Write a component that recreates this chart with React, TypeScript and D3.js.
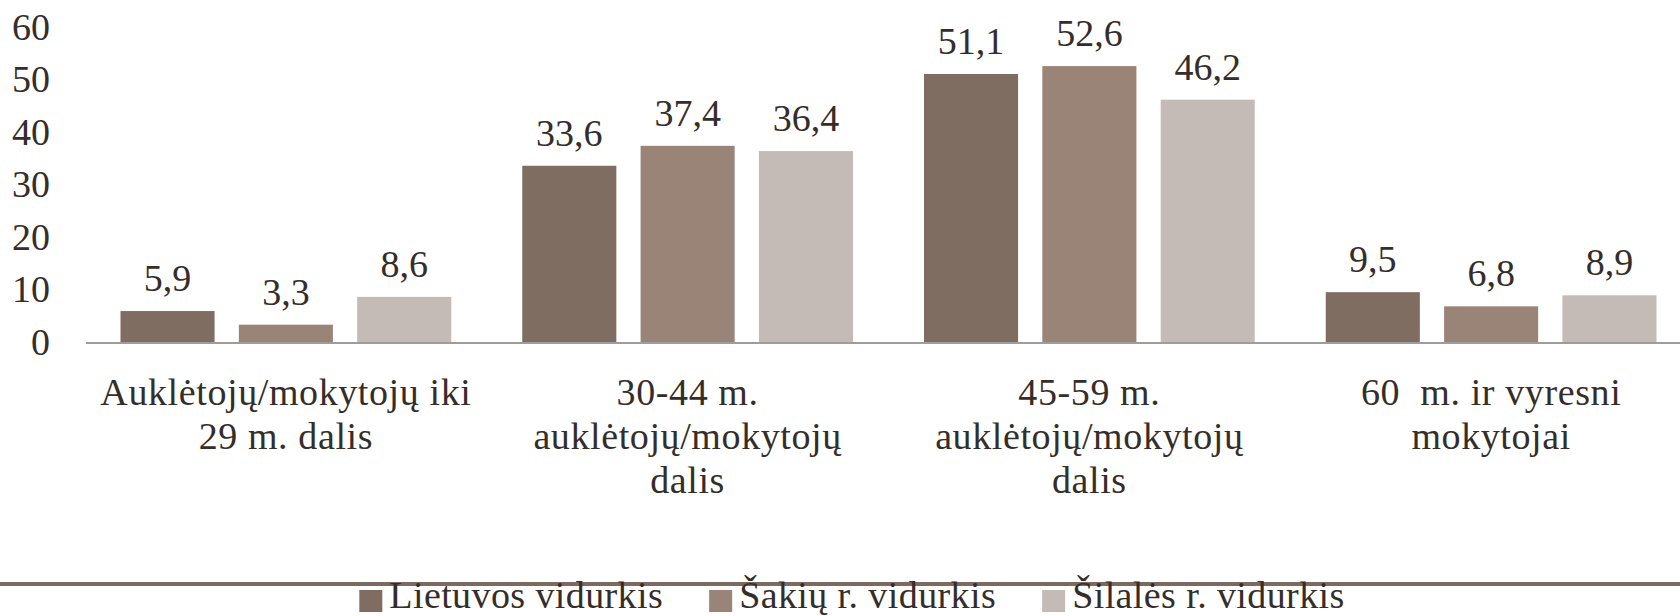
import React, { useEffect, useRef } from 'react';
import * as d3 from 'd3';

// chart data
const categories = ['c1', 'c2', 'c3', 'c4'];
const categoryLabels = [
  ['Auklėtojų/mokytojų iki', '29 m. dalis'],
  ['30-44 m.', 'auklėtojų/mokytojų', 'dalis'],
  ['45-59 m.', 'auklėtojų/mokytojų', 'dalis'],
  ['60  m. ir vyresni', 'mokytojai'],
];
const seriesNames = ['Lietuvos vidurkis', 'Šakių r. vidurkis', 'Šilalės r. vidurkis'];
const lietuva = [5.9, 33.6, 51.1, 9.5];
const sakiai = [3.3, 37.4, 52.6, 6.8];
const silale = [8.6, 36.4, 46.2, 8.9];
const yTicks = [0, 10, 20, 30, 40, 50, 60];

const colors = ['#7f6d62', '#9a8477', '#c4bbb6'];
const textColor = '#352d29';
const font = '"Liberation Serif", "Times New Roman", serif';

const App = () => {
  const svgRef = useRef<SVGSVGElement>(null);

  useEffect(() => {
    const width = 1680;
    const svg = d3.select(svgRef.current);
    svg.selectAll('*').remove();

    const values = [lietuva, sakiai, silale];

    const x0 = d3.scaleBand().domain(categories).range([85, 1692]);
    const x1 = d3.scaleBand()
      .domain(seriesNames)
      .range([0, x0.bandwidth()])
      .paddingInner(0.205)
      .paddingOuter(0.3);
    const y = d3.scaleLinear().domain([0, 60]).range([342, 27.3]);

    // y tick labels
    svg.append('g')
      .selectAll('text')
      .data(yTicks)
      .enter().append('text')
      .attr('x', 50)
      .attr('y', d => y(d) + 12.7)
      .attr('text-anchor', 'end')
      .attr('font-size', 38)
      .attr('font-family', font)
      .attr('fill', textColor)
      .text(d => d);

    // bars
    const groups = svg.append('g')
      .selectAll('g')
      .data(categories)
      .enter().append('g')
      .attr('transform', d => `translate(${x0(d)},0)`);

    groups.each(function (cat, ci) {
      const g = d3.select(this);
      const rows = seriesNames.map((s, si) => ({ s, si, v: values[si][ci] }));
      g.selectAll('rect')
        .data(rows)
        .enter().append('rect')
        .attr('x', d => x1(d.s) as number)
        .attr('y', d => y(d.v))
        .attr('width', x1.bandwidth())
        .attr('height', d => y(0) - y(d.v))
        .attr('fill', d => colors[d.si]);
      g.selectAll('text.val')
        .data(rows)
        .enter().append('text')
        .attr('class', 'val')
        .attr('x', d => (x1(d.s) as number) + x1.bandwidth() / 2)
        .attr('y', d => y(d.v) - 20)
        .attr('text-anchor', 'middle')
        .attr('font-size', 38)
        .attr('font-family', font)
        .attr('fill', textColor)
        .text(d => d3.format('.1f')(d.v).replace('.', ','));

      // category label
      const label = g.append('text')
        .attr('text-anchor', 'middle')
        .attr('font-size', 38)
        .attr('font-family', font)
        .attr('letter-spacing', 0.6)
        .style('white-space', 'pre')
        .attr('fill', textColor);
      categoryLabels[ci].forEach((line, li) => {
        label.append('tspan')
          .attr('x', x0.bandwidth() / 2)
          .attr('y', 405 + li * 44)
          .text(line);
      });
    });

    // x axis line
    svg.append('line')
      .attr('x1', 86)
      .attr('x2', width)
      .attr('y1', y(0) + 1)
      .attr('y2', y(0) + 1)
      .attr('stroke', '#a09c9a')
      .attr('stroke-width', 2);

    // legend separator
    svg.append('line')
      .attr('x1', 0)
      .attr('x2', width)
      .attr('y1', 584)
      .attr('y2', 584)
      .attr('stroke', '#7b6a5f')
      .attr('stroke-width', 4);

    // legend
    const legend = svg.append('g');
    const items = legend.selectAll('g')
      .data(seriesNames)
      .enter().append('g');
    items.append('rect')
      .attr('x', 0)
      .attr('y', 590)
      .attr('width', 23)
      .attr('height', 22)
      .attr('fill', (d, i) => colors[i]);
    items.append('text')
      .attr('x', 30)
      .attr('y', 608)
      .attr('font-size', 38)
      .attr('font-family', font)
      .attr('letter-spacing', 0.4)
      .attr('fill', textColor)
      .text(d => d);

    const widths: number[] = [];
    items.each(function () {
      widths.push((this as SVGGElement).getBBox().width);
    });
    const gap = 46;
    const total = d3.sum(widths) + gap * (widths.length - 1);
    let cx = 852 - total / 2;
    items.attr('transform', (d, i) => {
      const t = `translate(${cx},0)`;
      cx += widths[i] + gap;
      return t;
    });
  }, []);

  return (
    <div style={{ position: 'absolute', left: 0, top: 0, background: '#fff' }}>
      <svg ref={svgRef} width={1680} height={616} style={{ display: 'block' }} />
    </div>
  );
};

export default App;
